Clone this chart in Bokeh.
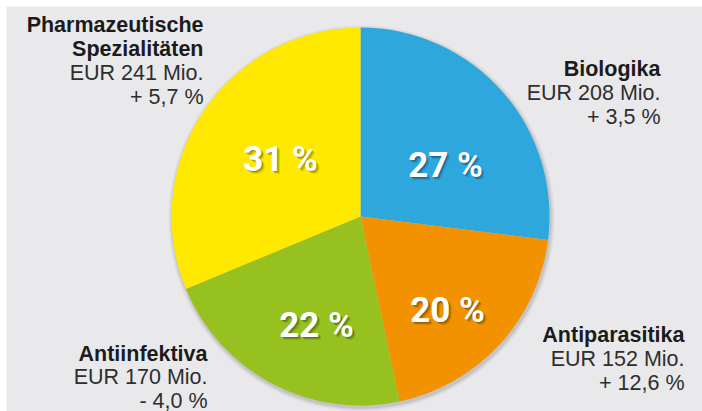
import numpy as np
from bokeh.plotting import figure
from bokeh.models import Range1d, ColumnDataSource, BoxAnnotation
from bokeh.core.properties import value
from bokeh.embed import file_html
from bokeh.resources import INLINE

# ---- data ----
categories = ["Biologika", "Antiparasitika", "Antiinfektiva", "Pharmazeutische Spezialitäten"]
eur_mio = [208, 152, 170, 241]
change_pct = [3.5, 12.6, -4.0, 5.7]
share_pct = [27, 20, 22, 31]

# ---- styles / layout ----
colors = ["#2ea7dd", "#f39200", "#96c11f", "#ffe900"]
BG = "#e9e9eb"
W, H = 702, 411
CX, CY, R = 360, 216, 189          # pie centre / radius in reference pixels
LINE = 24                           # label line spacing
label_anchor = [(660, 68), (684, 334), (207, 353), (203, 24)]   # right edge, first baseline
label_line = [24, 24, 23.5, 24]
pct_center = [(445, 152), (447, 297), (316, 312), (280, 146)]


def Y(yref):
    return H - yref


p = figure(width=W, height=H, output_backend="svg", toolbar_location=None,
           x_range=Range1d(0, W), y_range=Range1d(0, H),
           x_axis_location=None, y_axis_location=None,
           min_border=0, min_border_left=0, min_border_right=0,
           min_border_top=0, min_border_bottom=0,
           outline_line_color=None, background_fill_color="white", border_fill_color="white")
p.grid.visible = False

# grey panel (white strip at top/left as in the reference)
p.add_layout(BoxAnnotation(left=6, right=W, bottom=0, top=Y(6), fill_color=BG,
                           fill_alpha=1, line_color=None, level="underlay"))

# pie
vals = np.array(eur_mio, dtype=float)
frac = vals / vals.sum()
cum = np.concatenate([[0], np.cumsum(frac)])
start = np.pi / 2 - 2 * np.pi * cum[:-1]
end = np.pi / 2 - 2 * np.pi * cum[1:]

# soft shadow
for dr, a in [(4, 0.04), (2.5, 0.05), (1.2, 0.07)]:
    p.circle(x=[CX + 1], y=[Y(CY + 2)], radius=R + dr, fill_color="black",
             fill_alpha=a, line_color=None)

src = ColumnDataSource(dict(x=[CX] * 4, y=[Y(CY)] * 4, start=start, end=end, color=colors))
p.wedge(x="x", y="y", radius=R, start_angle="start", end_angle="end",
        direction="clock", fill_color="color", line_color=None, source=src)

# percentage labels (white bold, with shadow)
PCT_FONT = value("Roboto")
pct_text = [f"{s} %" for s in share_pct]
px = [c[0] for c in pct_center]
py = [Y(c[1] + 12.5) for c in pct_center]
for off, a in [(3, 0.10), (2, 0.16), (1, 0.2)]:
    p.text(x=[v + off for v in px], y=[v - off for v in py], text=pct_text,
           text_font=PCT_FONT, text_font_size=value("35px"),
           text_font_style="bold", text_color="black", text_alpha=a,
           text_align="center", text_baseline="alphabetic")
p.text(x=px, y=py, text=pct_text,
       text_font=PCT_FONT, text_font_size=value("35px"),
       text_font_style="bold", text_color="white",
       text_align="center", text_baseline="alphabetic")

# side labels
bx, by, bt = [], [], []
rx, ry, rt = [], [], []
for cat, eur, ch, (ax, ay), lh in zip(categories, eur_mio, change_pct, label_anchor, label_line):
    name_lines = cat.split(" ")
    yb = ay
    for ln in name_lines:
        bx.append(ax); by.append(Y(yb)); bt.append(ln)
        yb += lh
    sign = "+" if ch >= 0 else "-"
    ch_txt = f"{sign} {abs(ch):.1f} %".replace(".", ",")
    for ln in [f"EUR {eur} Mio.", ch_txt]:
        rx.append(ax); ry.append(Y(yb)); rt.append(ln)
        yb += lh

p.text(x=bx, y=by, text=bt, text_font=value("Liberation Sans"),
       text_font_size=value("21.5px"), text_font_style="bold", text_color="#1b1b1b",
       text_align="right", text_baseline="alphabetic")
p.text(x=rx, y=ry, text=rt, text_font=value("Liberation Sans"),
       text_font_size=value("21.5px"), text_color="#2e2e2e",
       text_align="right", text_baseline="alphabetic")

open("out.html", "w").write(file_html(p, INLINE))
